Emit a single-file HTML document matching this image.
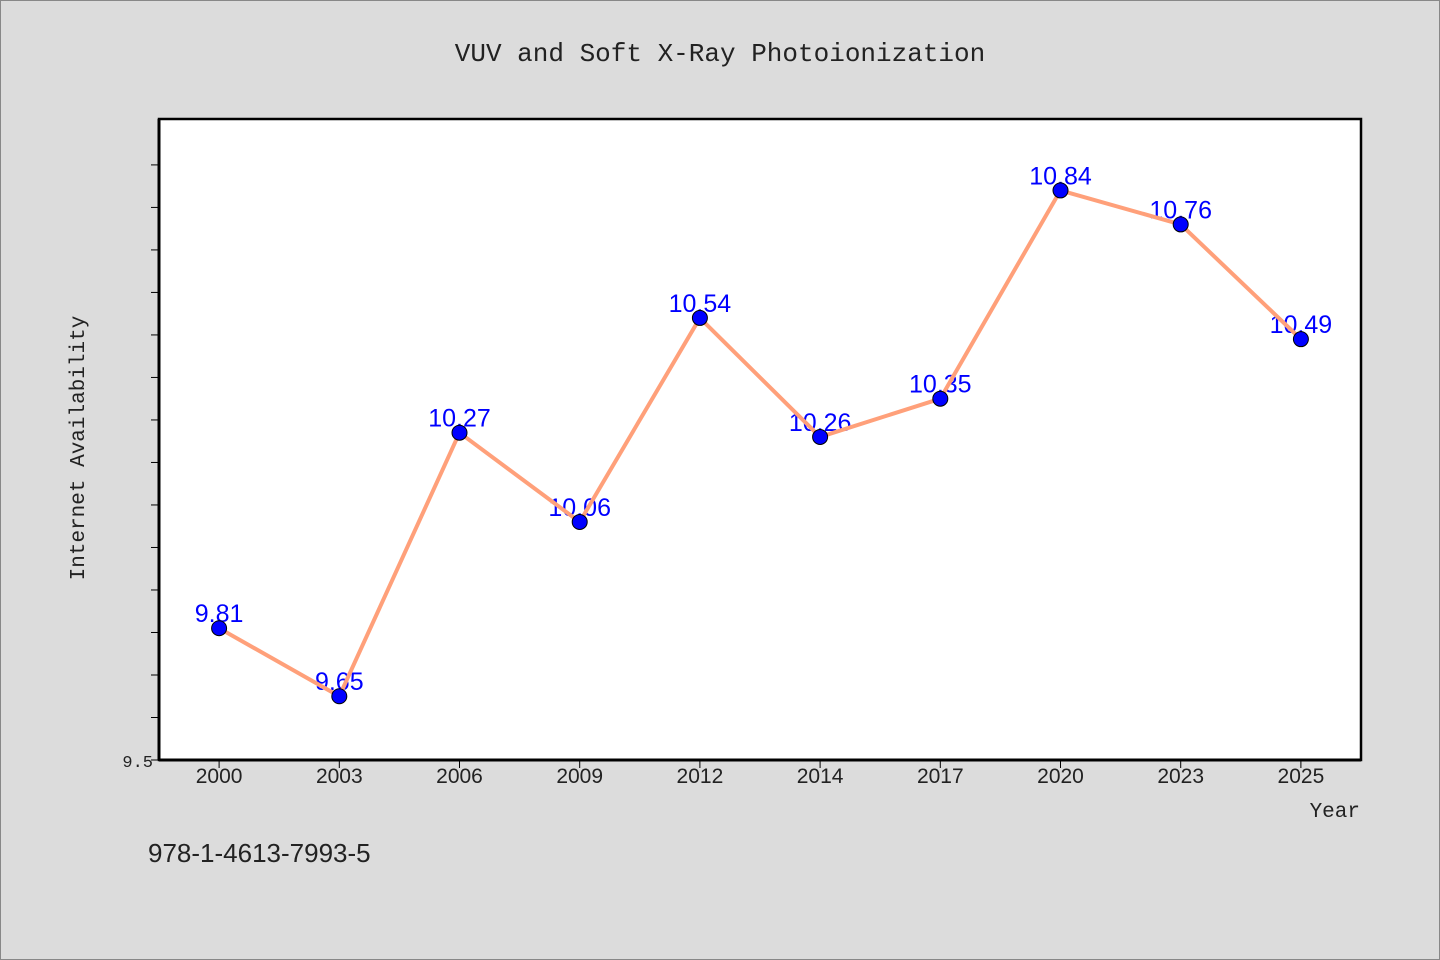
<!DOCTYPE html>
<html><head><meta charset="utf-8"><style>
html,body{margin:0;padding:0;background:#dcdcdc;}
svg{display:block;}
</style></head><body>
<svg width="1440" height="960" xmlns="http://www.w3.org/2000/svg">
<rect x="0.5" y="0.5" width="1439" height="959" fill="#dcdcdc" stroke="#888"/>
<text x="720" y="61" text-anchor="middle" font-family="'Liberation Mono','Noto Sans CJK SC',monospace" font-size="26" fill="#222">VUV and Soft X-Ray Photoionization</text>
<rect x="159" y="119" width="1202" height="641" fill="#fff" stroke="#000" stroke-width="2.5"/>
<g id="yticks"></g>
<g id="xticks"></g>
<g id="series"></g>
<text transform="translate(84,448) rotate(-90)" text-anchor="middle" font-family="'Liberation Mono','Noto Sans CJK SC',monospace" font-size="21" fill="#222">Internet Availability</text>
<text x="1360" y="817" text-anchor="end" font-family="'Liberation Mono','Noto Sans CJK SC',monospace" font-size="21" fill="#222">Year</text>
<text x="148" y="862" font-family="'Liberation Sans','Noto Sans CJK SC',sans-serif" font-size="26" fill="#222">978-1-4613-7993-5</text>
<line x1="159" y1="760" x2="1361" y2="760" stroke="#000" stroke-width="3"/>
<line x1="159" y1="119" x2="159" y2="760" stroke="#000" stroke-width="3"/>
</svg>
<script>
const categories = ["2000","2003","2006","2009","2012","2014","2017","2020","2023","2025"];
const values = [9.81,9.65,10.27,10.06,10.54,10.26,10.35,10.84,10.76,10.49];
const yTicks = [9.5,9.6,9.7,9.8,9.9,10.0,10.1,10.2,10.3,10.4,10.5,10.6,10.7,10.8,10.9];
const yTickLabels = ["9.5"];
const NS="http://www.w3.org/2000/svg";
const L=159,R=1361,T=119,B=760,Y0=9.5,Y1=11.008;
const band=(R-L)/categories.length;
function xs(i){return L+band*(i+0.5);}
function ys(v){return B-(v-Y0)/(Y1-Y0)*(B-T);}
function mk(tag,attrs,parent){const e=document.createElementNS(NS,tag);for(const k in attrs)e.setAttribute(k,attrs[k]);parent.appendChild(e);return e;}
const yg=document.getElementById('yticks'),xg=document.getElementById('xticks'),sg=document.getElementById('series');
yTicks.forEach((v,i)=>{
 const t=mk('line',{x1:151,x2:159,y1:ys(v),y2:ys(v),stroke:'#000','stroke-width':1},yg);
 
 
 if(i<yTickLabels.length){
  const tx=mk('text',{x:153,y:ys(v)+7,'text-anchor':'end','font-family':"'Liberation Mono',monospace",'font-size':17,fill:'#222'},yg);
  tx.textContent=yTickLabels[i];
  
  
 }
});
categories.forEach((c,i)=>{
 const t=mk('line',{x1:xs(i),x2:xs(i),y1:760,y2:768,stroke:'#000','stroke-width':1},xg);
 
 
 const tx=mk('text',{x:xs(i),y:783,'text-anchor':'middle','font-family':"'Liberation Sans',sans-serif",'font-size':21,fill:'#222'},xg);
 tx.textContent=c;
 
 
});
values.forEach((v,i)=>{
 const tx=mk('text',{x:xs(i),y:ys(v)-6,'text-anchor':'middle','font-family':"'Liberation Sans',sans-serif",'font-size':25,fill:'#0000ff'},sg);
 tx.textContent=v.toFixed(2);
 
 
});
const pl=mk('polyline',{points:values.map((v,i)=>xs(i)+','+ys(v)).join(' '),fill:'none',stroke:'#ffa07a','stroke-width':4,'stroke-linejoin':'round'},sg);


values.forEach((v,i)=>{
 const c=mk('circle',{cx:xs(i),cy:ys(v),r:7.5,fill:'#0000ff',stroke:'#000','stroke-width':1},sg);
 
 
});
</script>
</body></html>
